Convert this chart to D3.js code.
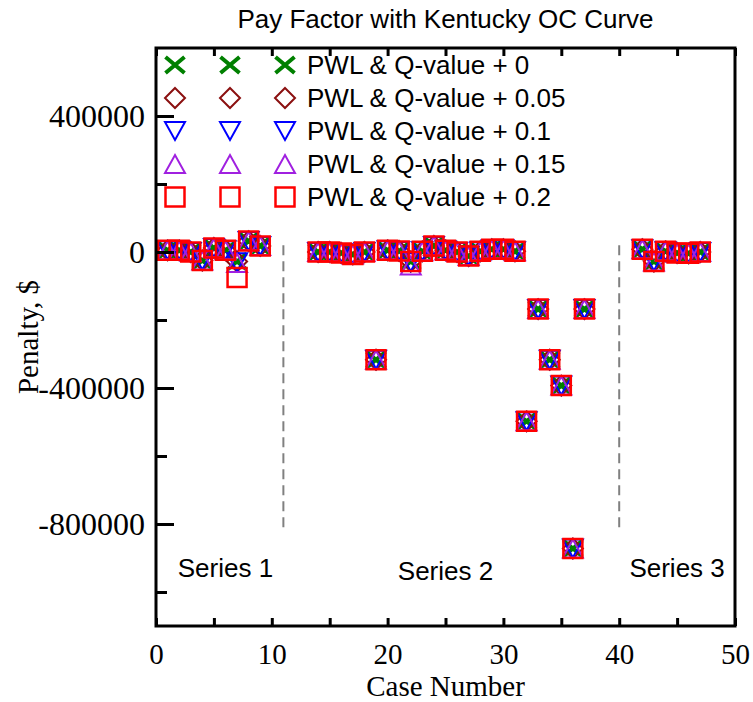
<!DOCTYPE html>
<html lang="en">
<head>
<meta charset="UTF-8">
<title>Pay Factor with Kentucky OC Curve</title>
<script src="https://d3js.org/d3.v7.min.js"></script>
<style>
  body { margin: 0; background: #fff; }
</style>
</head>
<body>
<svg width="753" height="702"></svg>
<script>
// case numbers (three groups of cases)
var caseNumbers = [1, 2, 3, 4, 5, 6, 7, 8, 9,
    14, 15, 16, 17, 18, 19, 20, 21, 22, 23, 24, 25, 26, 27, 28, 29, 30, 31, 32, 33, 34, 35, 36, 37,
    42, 43, 44, 45, 46, 47];

// penalty ($) for each Q-value offset
var penaltyQ000 = [5000, 5000, 0, -25000, 12000, 5000, -28000, 32000, 18000,
    0, 0, -3000, -7000, 0, -317000, 5000, 3000, -28000, 2000, 18000, 5000, 0, -12000, 2000, 8000, 8000, 2000,
    -498000, -168000, -317000, -393000, -872000, -168000,
    8000, -28000, 2000, -3000, -4000, 0];
var penaltyQ005 = [5000, 5000, 0, -25000, 12000, 5000, -28000, 32000, 18000,
    0, 0, -3000, -7000, 0, -317000, 5000, 3000, -28000, 2000, 18000, 5000, 0, -12000, 2000, 8000, 8000, 2000,
    -498000, -168000, -317000, -393000, -872000, -168000,
    8000, -28000, 2000, -3000, -4000, 0];
var penaltyQ010 = [5000, 5000, 0, -25000, 12000, 5000, -30000, 32000, 18000,
    0, 0, -3000, -7000, 0, -317000, 5000, 3000, -30000, 2000, 18000, 5000, 0, -12000, 2000, 8000, 8000, 2000,
    -498000, -168000, -317000, -393000, -872000, -168000,
    8000, -28000, 2000, -3000, -4000, 0];
var penaltyQ015 = [5000, 5000, 0, -25000, 12000, 5000, -32000, 32000, 18000,
    0, 0, -3000, -7000, 0, -317000, 5000, 3000, -40000, 2000, 18000, 5000, 0, -12000, 2000, 8000, 8000, 2000,
    -498000, -168000, -317000, -393000, -872000, -168000,
    8000, -28000, 2000, -3000, -4000, 0];
var penaltyQ020 = [5000, 5000, 0, -25000, 12000, 5000, -75000, 32000, 18000,
    0, 0, -3000, -7000, 0, -317000, 5000, 3000, -28000, 2000, 18000, 5000, 0, -12000, 2000, 8000, 8000, 2000,
    -498000, -168000, -317000, -393000, -872000, -168000,
    8000, -28000, 2000, -3000, -4000, 0];

var seriesNames = ["PWL & Q-value + 0", "PWL & Q-value + 0.05", "PWL & Q-value + 0.1",
    "PWL & Q-value + 0.15", "PWL & Q-value + 0.2"];
var seriesValues = [penaltyQ000, penaltyQ005, penaltyQ010, penaltyQ015, penaltyQ020];

var xTicks = [0, 5, 10, 15, 20, 25, 30, 35, 40, 45, 50];
var yMajorTicks = [-800000, -400000, 0, 400000];
var yMinorTicks = [-1000000, -600000, -200000, 200000];

// dashed separators between groups
var dividerCases = [11, 40];
var dividerTop = 20000, dividerBottom = -810000;

var groupLabels = ["Series 1", "Series 2", "Series 3"];
var groupLabelCases = [6, 25, 45];
var groupLabelValues = [-956000, -965000, -956000];

var svg = d3.select("svg"),
    width = +svg.attr("width"),
    height = +svg.attr("height"),
    margin = {top: 48, right: 18, bottom: 76, left: 156};

var serif = "'Liberation Serif', 'Times New Roman', serif",
    sans = "'Liberation Sans', Arial, sans-serif";

var x = d3.scaleLinear().domain([0, 50]).range([margin.left, width - margin.right]);
var y = d3.scaleLinear().domain([-1100000, 600000]).range([height - margin.bottom, margin.top]);

// marker shapes, size = box width
function tri(dir) {
    return {
        draw: function(ctx, s) {
            var r = s / 2, h = s * 0.45;
            ctx.moveTo(-r, -h * dir);
            ctx.lineTo(r, -h * dir);
            ctx.lineTo(0, h * dir);
            ctx.closePath();
        }
    };
}
var shapes = [
    { draw: function(ctx, s) { var r = s / 2, h = s * 0.42;
        ctx.moveTo(-r, -h); ctx.lineTo(r, h); ctx.moveTo(r, -h); ctx.lineTo(-r, h); } },
    { draw: function(ctx, s) { var r = s / 2;
        ctx.moveTo(0, -r); ctx.lineTo(r, 0); ctx.lineTo(0, r); ctx.lineTo(-r, 0); ctx.closePath(); } },
    tri(1),
    tri(-1),
    { draw: function(ctx, s) { var r = s / 2; ctx.rect(-r, -r, s, s); } }
];
var colors = ["#008000", "#8b1010", "#0000ff", "#a020e0", "#ff0000"];
var strokeW = [4, 2, 2, 2, 2.5];
var sizes = [19, 20, 20, 20, 19];

// title
svg.append("text")
    .attr("x", (x.range()[0] + x.range()[1]) / 2)
    .attr("y", 28)
    .attr("text-anchor", "middle")
    .attr("font-family", sans)
    .attr("font-size", 26)
    .text("Pay Factor with Kentucky OC Curve");

// dashed dividers
svg.append("g")
    .selectAll("line")
    .data(dividerCases)
    .enter().append("line")
    .attr("x1", x).attr("x2", x)
    .attr("y1", y(dividerTop)).attr("y2", y(dividerBottom))
    .attr("stroke", "#808080")
    .attr("stroke-width", 2)
    .attr("stroke-dasharray", "10,6");

// markers
seriesValues.forEach(function(vals, k) {
    var sym = d3.symbol().type(shapes[k]).size(sizes[k]);
    svg.append("g")
        .selectAll("path")
        .data(caseNumbers)
        .enter().append("path")
        .attr("transform", function(d, i) { return "translate(" + x(d) + "," + y(vals[i]) + ")"; })
        .attr("d", sym)
        .attr("fill", "none")
        .attr("stroke", colors[k])
        .attr("stroke-width", strokeW[k]);
});

// group labels
svg.append("g")
    .selectAll("text")
    .data(groupLabels)
    .enter().append("text")
    .attr("x", function(d, i) { return x(groupLabelCases[i]); })
    .attr("y", function(d, i) { return y(groupLabelValues[i]); })
    .attr("text-anchor", "middle")
    .attr("font-family", sans)
    .attr("font-size", 26)
    .text(function(d) { return d; });

// axes
var xAxis = svg.append("g")
    .attr("transform", "translate(0," + (height - margin.bottom) + ")")
    .call(d3.axisBottom(x).tickValues(xTicks).tickSizeInner(-8).tickSizeOuter(0).tickPadding(17)
        .tickFormat(function(d) { return d % 10 === 0 ? d : ""; }));
var xTop = svg.append("g")
    .attr("transform", "translate(0," + margin.top + ")")
    .call(d3.axisTop(x).tickValues(xTicks).tickSizeInner(-8).tickSizeOuter(0).tickFormat(""));
var yAxis = svg.append("g")
    .attr("transform", "translate(" + margin.left + ",0)")
    .call(d3.axisLeft(y).tickValues(yMajorTicks).tickSizeInner(-18).tickSizeOuter(0).tickPadding(11)
        .tickFormat(d3.format("d")));
var yMinor = svg.append("g")
    .attr("transform", "translate(" + margin.left + ",0)")
    .call(d3.axisLeft(y).tickValues(yMinorTicks).tickSizeInner(-11).tickSizeOuter(0).tickFormat(""));

[xAxis, xTop, yAxis, yMinor].forEach(function(a) {
    a.select(".domain").remove();
    a.selectAll("line").attr("stroke", "#000").attr("stroke-width", 3);
    a.selectAll("text").attr("font-family", serif).attr("font-size", 29).attr("fill", "#000");
});
yAxis.selectAll("text")
    .attr("font-size", 32)
    .text(function(d) { return d < 0 ? "-" + Math.abs(d) : d; });

// frame
svg.append("rect")
    .attr("x", margin.left)
    .attr("y", margin.top)
    .attr("width", width - margin.left - margin.right)
    .attr("height", height - margin.top - margin.bottom)
    .attr("fill", "none")
    .attr("stroke", "#000")
    .attr("stroke-width", 3);

// axis titles
svg.append("text")
    .attr("x", (x.range()[0] + x.range()[1]) / 2)
    .attr("y", 696)
    .attr("text-anchor", "middle")
    .attr("font-family", serif)
    .attr("font-size", 29)
    .text("Case Number");

svg.append("text")
    .attr("transform", "translate(38," + y(-250000) + ")rotate(-90)")
    .attr("text-anchor", "middle")
    .attr("font-family", serif)
    .attr("font-size", 29)
    .text("Penalty, $");

// legend
var legend = svg.append("g")
    .selectAll("g")
    .data(seriesNames)
    .enter().append("g")
    .attr("transform", function(d, i) { return "translate(0," + (65 + i * 33) + ")"; });

legend.each(function(d, k) {
    var g = d3.select(this);
    var sym = d3.symbol().type(shapes[k]).size(sizes[k]);
    [175, 230, 285].forEach(function(px) {
        g.append("path")
            .attr("transform", "translate(" + px + ",0)")
            .attr("d", sym)
            .attr("fill", "none")
            .attr("stroke", colors[k])
            .attr("stroke-width", strokeW[k]);
    });
    g.append("text")
        .attr("x", 307)
        .attr("dy", "0.35em")
        .attr("font-family", sans)
        .attr("font-size", 26)
        .text(d);
});
</script>
</body>
</html>
